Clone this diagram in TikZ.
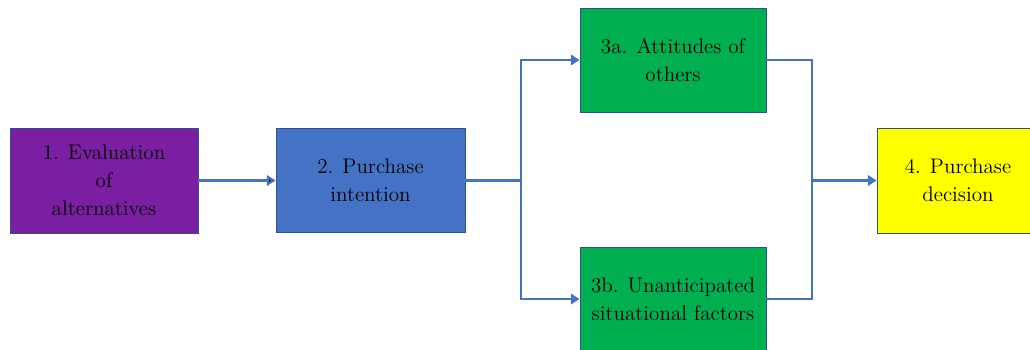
\documentclass[tikz,border=0pt]{standalone}
\usepackage{tikz}
\usetikzlibrary{arrows.meta}

\definecolor{stagepurple}{HTML}{7B1FA2}
\definecolor{stageblue}{HTML}{4472C4}
\definecolor{stagegreen}{HTML}{00B050}
\definecolor{stageyellow}{HTML}{FFFF00}
\definecolor{rimblue}{HTML}{2F528F}
\definecolor{flowblue}{HTML}{4472C4}

\begin{document}
\begin{tikzpicture}[x=0.02cm, y=-0.02cm,
    stage/.style = {draw = rimblue, line width = 0.5pt, inner sep = 0pt, align = center,
                    font = \fontsize{12}{16}\selectfont, text = black},
    flow/.style = {draw = flowblue, line width = 1.6pt},
    tip/.style = {-{Triangle[width = 6pt, length = 5pt]}}]
  \useasboundingbox (0,0) rectangle (1030,349);
  \clip (0,0) rectangle (1030,349);

  \node[stage, fill = stagepurple, minimum width = 3.76cm, minimum height = 2.1cm] (eval) at (104,180.5) {1. Evaluation\\of\\alternatives};
  \node[stage, fill = stageblue, minimum width = 3.78cm, minimum height = 2.08cm] (intent) at (370.5,180.5) {2. Purchase\\intention};
  \node[stage, fill = stagegreen, minimum width = 3.72cm, minimum height = 2.08cm] (others) at (673,60) {3a. Attitudes of\\others};
  \node[stage, fill = stagegreen, minimum width = 3.72cm, minimum height = 2.08cm] (situ) at (673,299) {3b. Unanticipated\\situational factors};
  \node[stage, fill = stageyellow, minimum width = 3.24cm, minimum height = 2.1cm] (decide) at (958,180.5) {4. Purchase\\decision};

  \coordinate (split) at (521,180.5);
  \coordinate (merge) at (812,180.5);

  \path[flow, tip] (eval) edge (intent);
  \draw[flow] (intent.east) -- (split);
  \draw[flow, tip] (split) |- (others.west);
  \draw[flow, tip] (split) |- (situ.west);
  \draw[flow] (others.east) -| (merge) |- (situ.east);
  \draw[flow, tip] (merge) -- (decide.west);
\end{tikzpicture}
\end{document}
